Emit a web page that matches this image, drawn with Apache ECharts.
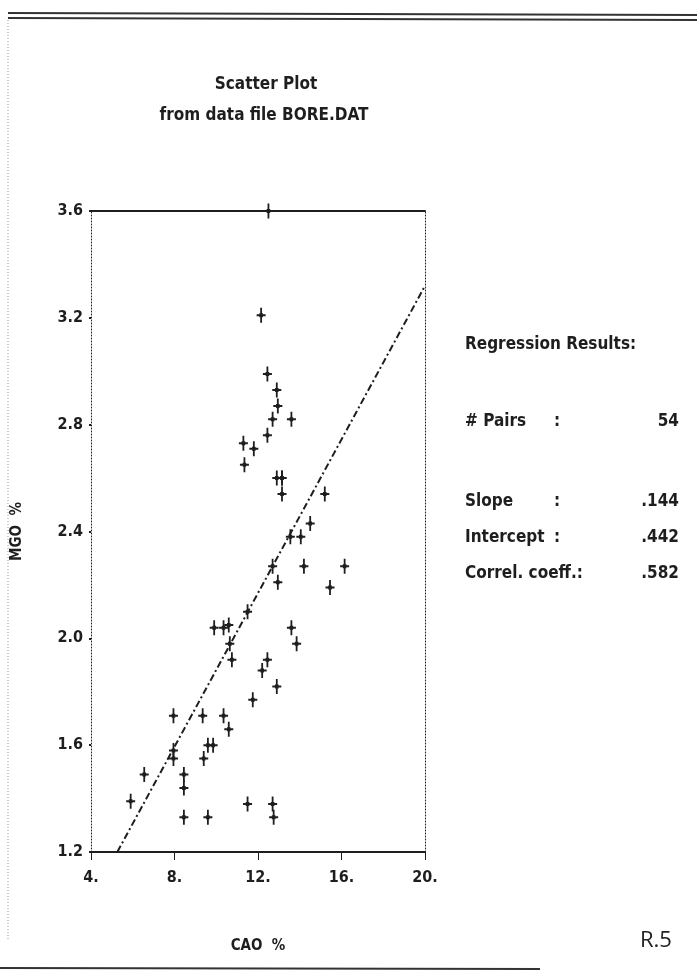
<!DOCTYPE html>
<html>
<head>
<meta charset="utf-8">
<title>Scatter Plot - BORE.DAT</title>
<script src="https://cdn.jsdelivr.net/npm/echarts@6/dist/echarts.min.js"></script>
<style>
  html, body { margin: 0; padding: 0; background: #fff; }
  #main { width: 697px; height: 976px; }
</style>
</head>
<body>
<div id="main"></div>
<script>
// CAO % (x) and MGO % (y)
var caoValues = [12.5, 12.15, 12.45, 12.9, 12.95, 12.7, 13.6, 12.45, 11.3, 11.8,
    11.35, 12.9, 13.15, 13.15, 15.2, 14.5, 13.55, 14.05, 12.7, 14.2,
    16.15, 12.95, 15.45, 11.5, 9.9, 10.35, 10.6, 10.65, 10.75, 13.6,
    13.85, 12.45, 12.2, 12.9, 11.75, 7.95, 9.35, 10.35, 10.6, 9.6,
    9.85, 7.95, 7.95, 9.4, 6.55, 8.45, 8.45, 5.9, 11.5, 12.7,
    8.45, 9.6, 12.75, 13.15];
var mgoValues = [3.6, 3.21, 2.99, 2.93, 2.87, 2.82, 2.82, 2.76, 2.73, 2.71,
    2.65, 2.6, 2.6, 2.54, 2.54, 2.43, 2.38, 2.38, 2.27, 2.27,
    2.27, 2.21, 2.19, 2.1, 2.04, 2.04, 2.05, 1.98, 1.92, 2.04,
    1.98, 1.92, 1.88, 1.82, 1.77, 1.71, 1.71, 1.71, 1.66, 1.6,
    1.6, 1.58, 1.55, 1.55, 1.49, 1.49, 1.44, 1.39, 1.38, 1.38,
    1.33, 1.33, 1.33, 2.6];

// fitted line end points as drawn
var lineX = [5.26, 20];
var lineY = [1.2, 3.32];

var xTicks = ['4.', '8.', '12.', '16.', '20.'];
var yTicks = ['1.2', '1.6', '2.0', '2.4', '2.8', '3.2', '3.6'];

var resultLabels = ['# Pairs', 'Slope', 'Intercept', 'Correl. coeff.:'];
var resultValues = ['54', '.144', '.442', '.582'];

var ink = '#1e1e1e';
var font = 'DejaVu Sans Condensed';

var points = [];
for (var i = 0; i < caoValues.length; i++) {
    points.push([caoValues[i], mgoValues[i]]);
}
var fitLine = [[lineX[0], lineY[0]], [lineX[1], lineY[1]]];

// plus marker, taller than wide, heavier in the middle
var plusPath = 'path://M-1,-7h2v5.5h1v1h3v2h-3v1h-1v5.5h-2v-5.5h-1v-1h-3v-2h3v-1h1z';

var myChart = echarts.init(document.getElementById('main'));

var resultText = [];
var rowY = [424, 504, 540, 576];
for (var r = 0; r < resultLabels.length; r++) {
    resultText.push({
        type: 'text', left: 465, top: rowY[r] - 11,
        style: { text: resultLabels[r], font: 'bold 17px "' + font + '"', fill: ink }
    });
    if (r < 3) {
        resultText.push({
            type: 'text', left: 554, top: rowY[r] - 11,
            style: { text: ':', font: 'bold 17px "' + font + '"', fill: ink }
        });
    }
    resultText.push({
        type: 'text', right: 18, top: rowY[r] - 11,
        style: { text: resultValues[r], font: 'bold 17px "' + font + '"', fill: ink }
    });
}

var option = {
    backgroundColor: '#fff',
    animation: false,
    textStyle: { fontFamily: font },
    title: [{
        text: 'Scatter Plot',
        left: 261, top: 71, textAlign: 'center',
        textStyle: { fontFamily: font, fontSize: 17, fontWeight: 'bold', color: ink }
    }, {
        text: 'from data file BORE.DAT',
        left: 259, top: 102, textAlign: 'center',
        textStyle: { fontFamily: font, fontSize: 17, fontWeight: 'bold', color: ink }
    }],
    grid: { left: 91, top: 211, width: 334, height: 641, containLabel: false },
    xAxis: [{
        type: 'value', min: 4, max: 20, interval: 4,
        position: 'bottom',
        name: 'CAO  %', nameLocation: 'middle', nameGap: 87,
        nameTextStyle: { fontFamily: font, fontSize: 15, fontWeight: 'bold', color: ink },
        axisLine: { show: true, lineStyle: { color: ink, width: 2 } },
        axisTick: { show: true, inside: false, length: 8, lineStyle: { color: ink } },
        axisLabel: {
            margin: 18, fontFamily: font, fontSize: 16, fontWeight: 'bold', color: ink,
            formatter: function (v) { return xTicks[Math.round((v - 4) / 4)]; }
        },
        splitLine: { show: false }
    }, {
        type: 'value', min: 4, max: 20, interval: 4,
        position: 'top',
        axisLine: { show: true, lineStyle: { color: ink, width: 2 } },
        axisTick: { show: false },
        axisLabel: { show: false },
        splitLine: { show: false }
    }],
    yAxis: [{
        type: 'value', min: 1.2, max: 3.6, interval: 0.4,
        position: 'left',
        name: 'MGO  %', nameLocation: 'middle', nameGap: 66,
        nameTextStyle: { fontFamily: font, fontSize: 15, fontWeight: 'bold', color: ink },
        axisLine: { show: true, lineStyle: { color: ink, width: 1, type: [1, 2] } },
        axisTick: { show: true, length: 2, lineStyle: { color: ink, width: 2 } },
        axisLabel: {
            margin: 8, fontFamily: font, fontSize: 16, fontWeight: 'bold', color: ink,
            formatter: function (v) { return yTicks[Math.round((v - 1.2) / 0.4)]; }
        },
        splitLine: { show: false }
    }, {
        type: 'value', min: 1.2, max: 3.6, interval: 0.4,
        position: 'right',
        axisLine: { show: true, lineStyle: { color: ink, width: 1, type: [1, 2] } },
        axisTick: { show: false },
        axisLabel: { show: false },
        splitLine: { show: false }
    }],
    series: [{
        name: 'BORE.DAT',
        type: 'scatter',
        data: points,
        symbol: plusPath,
        symbolKeepAspect: false,
        symbolSize: [9, 15],
        itemStyle: { color: ink, opacity: 1 }
    }, {
        name: 'Regression',
        type: 'line',
        data: fitLine,
        symbol: 'none',
        lineStyle: { color: ink, width: 2, type: [7, 3, 2, 3] },
        z: 1
    }],
    graphic: [
        // scanned page edges
        { type: 'line', shape: { x1: 8, y1: 13, x2: 697, y2: 15 }, style: { stroke: '#333', lineWidth: 2 } },
        { type: 'line', shape: { x1: 8, y1: 18, x2: 697, y2: 20 }, style: { stroke: '#333', lineWidth: 2 } },
        { type: 'line', shape: { x1: 8, y1: 20, x2: 8, y2: 940 }, style: { stroke: '#999', lineWidth: 1, lineDash: [1, 2] } },
        { type: 'line', shape: { x1: 0, y1: 968, x2: 540, y2: 969 }, style: { stroke: '#333', lineWidth: 2 } },
        {
            type: 'text', left: 465, top: 336,
            style: { text: 'Regression Results:', font: 'bold 17px "' + font + '"', fill: ink }
        },
        {
            type: 'text', left: 640, top: 930,
            style: { text: 'R.5', font: '22px "Open Sans"', fill: '#222' }
        }
    ].concat(resultText)
};

myChart.setOption(option);
</script>
</body>
</html>
